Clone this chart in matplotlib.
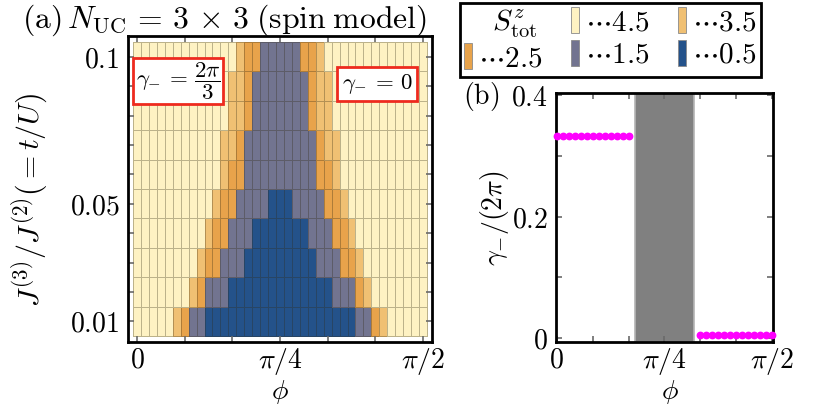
import numpy as np
import matplotlib
matplotlib.use('Agg')
import matplotlib.pyplot as plt
from matplotlib.colors import ListedColormap, BoundaryNorm
from matplotlib.patches import Patch

plt.rcParams['mathtext.fontset'] = 'cm'
plt.rcParams['font.family'] = ['DejaVu Serif']

# ---- panel (a): S_tot^z ground state map ----
# phi index k -> phi = k*pi/72, k = 0..36
phi_index = list(range(37))
coupling = [0.01, 0.02, 0.03, 0.04, 0.05, 0.06, 0.07, 0.08, 0.09, 0.10]
# one string per coupling row (bottom to top), digit d means S_tot^z = d + 1/2
stot_rows = [
    "444443211" "0000000000000000000" "112344444",   # 0.01
    "444444432111" "0000000000000" "111234444444",   # 0.02
    "44444444322111" "000000000" "11122344444444",   # 0.03
    "444444444322111" "0000000" "111223444444444",   # 0.04
    "44444444443221111" "000" "11112234444444444",   # 0.05
    "44444444444322" "111111111" "22344444444444",   # 0.06
    "44444444444332" "111111111" "23344444444444",   # 0.07
    "444444444444332" "1111111" "233444444444444",   # 0.08
    "444444444444332" "1111111" "233444444444444",   # 0.09
    "4444444444444322" "11111" "2234444444444444",   # 0.10
]
stot_levels = [0.5, 1.5, 2.5, 3.5, 4.5]
stot_colors = ['#24528a', '#727490', '#e8a34b', '#f0c073', '#fef2c3']

# ---- panel (b): gamma_- / (2 pi) ----
phi_index_topo = [0, 1, 2, 3, 4, 5, 6, 7, 8, 9, 10, 11, 12]
gamma_topo = [0.333, 0.333, 0.333, 0.333, 0.333, 0.333, 0.333,
              0.333, 0.333, 0.333, 0.333, 0.333, 0.333]
phi_index_triv = [24, 25, 26, 27, 28, 29, 30, 31, 32, 33, 34, 35, 36]
gamma_triv = [0.005, 0.005, 0.005, 0.005, 0.005, 0.005, 0.005,
              0.005, 0.005, 0.005, 0.005, 0.005, 0.005]
gap_index = (13, 23)

dphi = np.pi / 72
fs = 20

fig = plt.figure(figsize=(8.3, 4.15), dpi=100)

# ---------------- (a) ----------------
ax = fig.add_axes([0.1542, 0.1759, 0.3663, 0.7373])
phi = np.array(phi_index) * dphi
stot = np.array([[int(c) + 0.5 for c in row] for row in stot_rows])
cmap = ListedColormap(stot_colors)
norm = BoundaryNorm([0, 1, 2, 3, 4, 5], cmap.N)
ax.pcolormesh(phi, coupling, stot, shading='nearest', cmap=cmap, norm=norm,
              edgecolors=(0.2, 0.17, 0.08, 0.32), linewidth=0.6)
ax.set_xlim(-0.0493, 1.6201)
ax.set_ylim(0.00296, 0.10704)
ax.set_xticks([0, np.pi / 4, np.pi / 2])
ax.set_xticklabels([r'$0$', r'$\pi/4$', r'$\pi/2$'])
ax.set_xticks(np.arange(7) * np.pi / 12, minor=True)
ax.set_yticks([0.01, 0.05, 0.1])
ax.set_yticklabels([r'$0.01$', r'$0.05$', r'$0.1$'])
ax.set_yticks(coupling, minor=True)

ax.text(0.165, 0.852, r'$\gamma_{-}\,=\,\dfrac{2\pi}{3}$',
        transform=ax.transAxes, ha='center', va='center', fontsize=16.5,
        bbox=dict(boxstyle='square,pad=0.1', fc='white', ec='#ee2a1e', lw=2))
ax.text(0.819, 0.843, r'$\gamma_{-}\,=\,0$', transform=ax.transAxes,
        ha='center', va='center', fontsize=16.5,
        bbox=dict(boxstyle='square,pad=0.22', fc='white', ec='#ee2a1e', lw=2))

# ---------------- (b) ----------------
bx = fig.add_axes([0.6699, 0.1759, 0.2614, 0.6])
bx.axvspan(gap_index[0] * dphi, gap_index[1] * dphi, fc='#808080',
           ec='#b4b4b4', lw=1.2)
bx.plot(np.array(phi_index_topo) * dphi, gamma_topo, 'o', color='#ff00ff',
        ms=4.6, clip_on=False, zorder=3)
bx.plot(np.array(phi_index_triv) * dphi, gamma_triv, 'o', color='#ff00ff',
        ms=4.6, clip_on=False, zorder=3)
bx.set_xlim(-0.006, np.pi / 2 + 0.006)
bx.set_ylim(-0.0061, 0.4033)
bx.set_xticks([0, np.pi / 4, np.pi / 2])
bx.set_xticklabels([r'$0$', r'$\pi/4$', r'$\pi/2$'])
bx.set_xticks(np.arange(7) * np.pi / 12, minor=True)
bx.set_yticks([0, 0.2, 0.4])
bx.set_yticklabels([r'$0$', r'$0.2$', r'$0.4$'])
bx.set_yticks([0.1, 0.3], minor=True)

for a in (ax, bx):
    for s in a.spines.values():
        s.set_linewidth(2)
    a.tick_params(which='both', direction='in', top=True, right=True,
                  length=4, width=1.2, color='#6a6a6a', labelsize=fs)
    a.tick_params(axis='x', pad=3)
    a.tick_params(axis='y', pad=6)

# labels
fig.text(22 / 830, 1 - 28 / 415,
         r'$\mathrm{(a)}\,N_{\mathrm{UC}}\,=\,3\,\times\,3\;\mathrm{(spin\;model)}$',
         fontsize=22.8, ha='left', va='baseline')
fig.text(30 / 830, 1 - 200 / 415, r'$J^{(3)}/J^{(2)}(=t/U)$', fontsize=21.5,
         rotation=90, ha='center', va='center')
fig.text(280 / 830, 1 - 392 / 415, r'$\phi$', fontsize=fs, ha='center',
         va='center')
fig.text(670 / 830, 1 - 392 / 415, r'$\phi$', fontsize=fs, ha='center',
         va='center')
fig.text(463 / 830, 1 - 104 / 415, r'$\mathrm{(b)}$', fontsize=fs,
         ha='left', va='baseline')
fig.text(494 / 830, 1 - 218 / 415, r'$\gamma_{-}/(2\pi)$', fontsize=fs,
         rotation=90, ha='center', va='center')

# legend (filled column-wise: header, 2.5 | 4.5, 1.5 | 3.5, 0.5)
handles = [Patch(fc='none', ec='none')]
labels = [r'$\;\;S^{z}_{\mathrm{tot}}$']
order = [2, 4, 1, 3, 0]
for i in order:
    handles.append(Patch(fc=stot_colors[i], ec='#8a8a8a', lw=0.6))
    labels.append(r'$\cdots %.1f$' % stot_levels[i])
leg = fig.legend(handles, labels, ncol=3, loc='upper left',
                 bbox_to_anchor=(460 / 830, 1 - 3 / 415), fontsize=21,
                 frameon=True, fancybox=False, edgecolor='black',
                 framealpha=1, handlelength=0.25, handleheight=1.0,
                 handletextpad=0.2, columnspacing=1.0, labelspacing=0.12,
                 borderpad=0.15, borderaxespad=0)
leg.get_frame().set_linewidth(2)

fig.savefig('out.png', dpi=100)
